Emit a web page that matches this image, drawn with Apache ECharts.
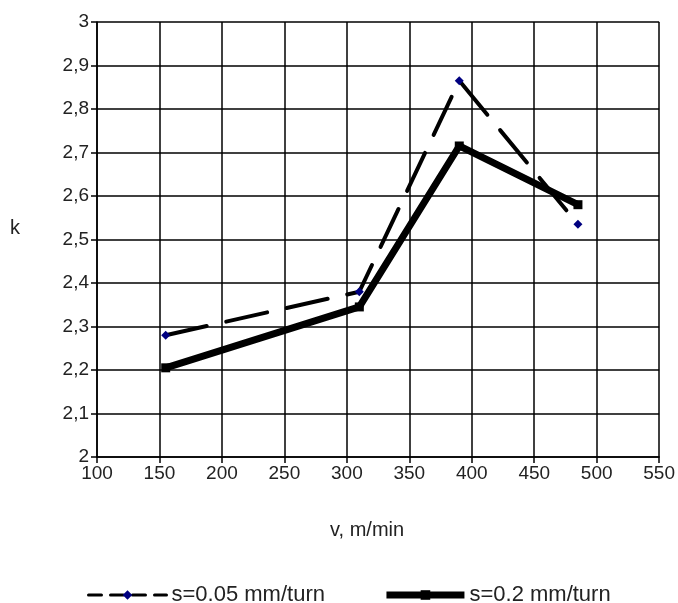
<!DOCTYPE html>
<html>
<head>
<meta charset="utf-8">
<script src="https://cdn.jsdelivr.net/npm/echarts@6/dist/echarts.min.js"></script>
<style>
  html, body { margin: 0; padding: 0; background: #fff; }
  #chart { width: 678px; height: 603px; }
</style>
</head>
<body>
<div id="chart"></div>
<script>
// speed values, m/min
var speeds = [155, 310, 390, 485];
// k for s=0.05 mm/turn
var kFine = [2.28, 2.38, 2.865, 2.535];
// k for s=0.2 mm/turn
var kCoarse = [2.205, 2.345, 2.715, 2.58];
var seriesNames = ["s=0.05 mm/turn", "s=0.2 mm/turn"];

function pairs(xs, ys) {
  return xs.map(function (x, i) { return [x, ys[i]]; });
}

var font = "Liberation Sans, Arial, sans-serif";
var chart = echarts.init(document.getElementById("chart"));

var option = {
  backgroundColor: "#fff",
  animation: false,
  grid: { left: 97, right: 17, top: 22, bottom: 146 },
  legend: {
    top: 579,
    left: 82,
    itemGap: 58,
    itemWidth: 78,
    itemHeight: 12,
    textStyle: { fontFamily: font, fontSize: 22, color: "#222" },
    data: [
      {
        name: seriesNames[0],
        lineStyle: { width: 3, type: [13, 9] }
      },
      {
        name: seriesNames[1],
        lineStyle: { width: 7 }
      }
    ]
  },
  xAxis: {
    type: "value",
    min: 100,
    max: 550,
    interval: 50,
    name: "v, m/min",
    nameLocation: "middle",
    nameGap: 63,
    nameTextStyle: { fontFamily: font, fontSize: 20, color: "#222", padding: [0, 22, 0, 0] },
    axisLine: { lineStyle: { color: "#000", width: 1.5 } },
    axisTick: { show: true, length: 6, lineStyle: { color: "#000", width: 1.5 } },
    axisLabel: { fontFamily: font, fontSize: 19, color: "#222", margin: 7 },
    splitLine: { show: true, lineStyle: { color: "#000", width: 1.5 } }
  },
  yAxis: {
    type: "value",
    min: 2,
    max: 3,
    interval: 0.1,
    name: "k",
    nameLocation: "middle",
    nameRotate: 0,
    nameGap: 77,
    nameTextStyle: { fontFamily: font, fontSize: 20, color: "#222", lineHeight: 22, verticalAlign: "bottom" },
    axisLine: { show: true, lineStyle: { color: "#000", width: 1.5 } },
    axisTick: { show: true, length: 6, lineStyle: { color: "#000", width: 1.5 } },
    axisLabel: {
      fontFamily: font, fontSize: 19, color: "#222", margin: 8,
      formatter: function (v) { return String(Math.round(v * 10) / 10).replace(".", ","); }
    },
    splitLine: { show: true, lineStyle: { color: "#000", width: 1.5 } }
  },
  series: [
    {
      name: seriesNames[0],
      type: "line",
      data: pairs(speeds, kFine),
      symbol: "diamond",
      symbolSize: 9,
      itemStyle: { color: "#000080" },
      lineStyle: { color: "#000", width: 4, type: [42, 20], cap: "round" },
      z: 3
    },
    {
      name: seriesNames[1],
      type: "line",
      data: pairs(speeds, kCoarse),
      symbol: "rect",
      symbolSize: 9,
      itemStyle: { color: "#000" },
      lineStyle: { color: "#000", width: 7 },
      z: 2
    }
  ]
};
chart.setOption(option);
</script>
</body>
</html>
